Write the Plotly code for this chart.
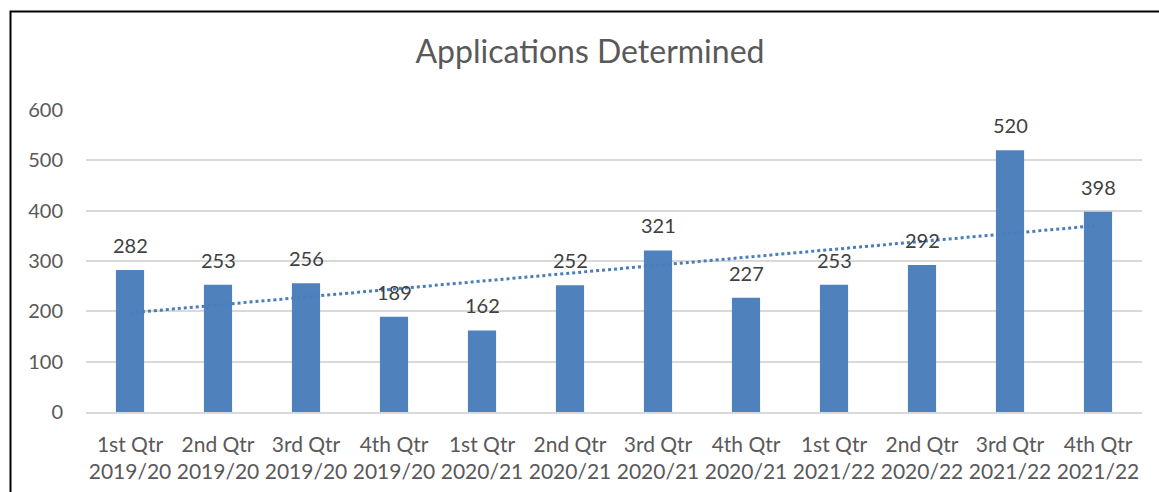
import numpy as np
import plotly.graph_objects as go

quarters = ["1st Qtr", "2nd Qtr", "3rd Qtr", "4th Qtr", "1st Qtr", "2nd Qtr",
            "3rd Qtr", "4th Qtr", "1st Qtr", "2nd Qtr", "3rd Qtr", "4th Qtr"]
years = ["2019/20", "2019/20", "2019/20", "2019/20", "2020/21", "2020/21",
         "2020/21", "2020/21", "2021/22", "2020/22", "2021/22", "2021/22"]
values = [282, 253, 256, 189, 162, 252, 321, 227, 253, 292, 520, 398]
y_ticks = [0, 100, 200, 300, 400, 500, 600]

categories = [f"{q}<br>{y}" for q, y in zip(quarters, years)]
xs = list(range(len(values)))

# linear trendline (least squares) as Excel does
slope, intercept = np.polyfit(np.arange(1, len(values) + 1), values, 1)
trend = [intercept + slope * (i + 1) for i in xs]

FONT = "Lato"
fig = go.Figure()
fig.add_trace(go.Bar(x=xs, y=values, marker=dict(color="#4F81BD", line=dict(width=0)),
                     hoverinfo="skip", showlegend=False))
fig.add_trace(go.Scatter(x=[xs[0], xs[-1]], y=[trend[0], trend[-1]], mode="lines",
                         line=dict(color="#4A7EBB", width=3, dash="dot"),
                         hoverinfo="skip", showlegend=False))

for x, v in zip(xs, values):
    fig.add_annotation(x=x, y=v, text=str(v), showarrow=False, yanchor="middle",
                       yshift=25, font=dict(family=FONT, size=20, color="#404040"))

W, H = 1159, 492
ml, mr, mt, mb = 86, 17, 110, 80
pw, ph = W - ml - mr, H - mt - mb
fig.add_shape(type="rect", xref="paper", yref="paper",
              x0=(10.5 - ml) / pw, x1=1.5, y0=-1, y1=1 + (mt - 11.5) / ph,
              line=dict(color="black", width=2), fillcolor="rgba(0,0,0,0)", layer="above")

fig.update_layout(
    width=W, height=H,
    margin=dict(l=ml, r=mr, t=mt, b=mb),
    paper_bgcolor="white", plot_bgcolor="white",
    bargap=0.68,
    title=dict(text="Applications Determined", x=590 / W, xanchor="center",
               y=1 - 52 / H, yanchor="middle",
               font=dict(family=FONT, size=32, color="#595959")),
    xaxis=dict(tickmode="array", tickvals=xs, ticktext=categories,
               range=[-0.5, len(values) - 0.5], showgrid=False, automargin=False,
               showline=True, linecolor="#D9D9D9", linewidth=1.5,
               ticks="", ticklabelstandoff=13,
               tickfont=dict(family=FONT, size=21, color="#595959")),
    yaxis=dict(range=[0, 600], tickvals=y_ticks, showgrid=True, gridcolor="#D9D9D9",
               gridwidth=1.5, zeroline=False, showline=False, ticks="", automargin=False,
               ticklabelstandoff=22,
               tickfont=dict(family=FONT, size=20, color="#595959")),
)
fig.write_html("out.html", config={"displayModeBar": False},
               post_script="document.body.style.margin='0';")
